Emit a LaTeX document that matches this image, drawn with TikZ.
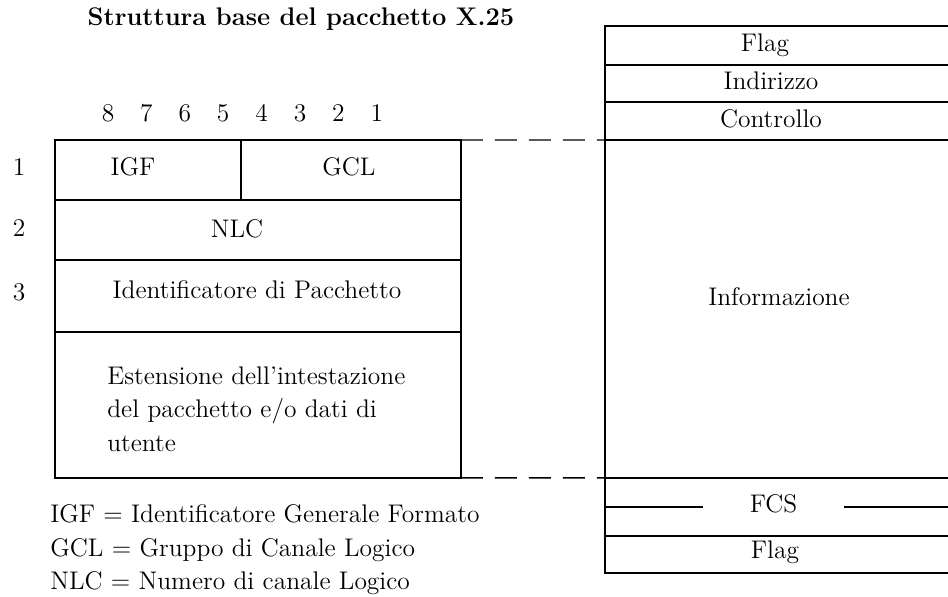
\documentclass[tikz,border=0pt]{standalone}
\begin{document}
\begin{tikzpicture}
[x=0.02cm,y=-0.02cm,
  font=\fontsize{14.5}{19}\selectfont,
  celldecorate/.style={shape=rectangle,draw,line width=0.8pt,inner sep=0pt,outer sep=0pt,anchor=north west},%
  textdecorate/.style={inner sep=0pt,text height=0.683em,text depth=0pt},%
  dashdecorate/.style={-,line width=0.8pt,dash pattern=on 0.44cm off 0.24cm}]
\useasboundingbox (0,0) rectangle (948,597);
% title and bit numbers
\node (title) at (301,20) [textdecorate,font=\fontsize{14.5}{19}\selectfont\bfseries] {Struttura base del pacchetto X.25};
\foreach \b in {1,...,8}
  \node (bit\b) at ({108+(8-\b)*38.4},116) [textdecorate] {\b};
% packet cells
\node (igf) at (55,140) [celldecorate,minimum width=3.72cm,minimum height=1.2cm] {};
\node (gcl) at (igf.north east) [celldecorate,minimum width=4.4cm,minimum height=1.2cm] {};
\node (nlc) at (igf.south west) [celldecorate,minimum width=8.12cm,minimum height=1.2cm] {};
\node (idp) at (nlc.south west) [celldecorate,minimum width=8.12cm,minimum height=1.44cm] {};
\node (ext) at (idp.south west) [celldecorate,minimum width=8.12cm,minimum height=2.92cm] {};
\foreach \r/\y in {1/170,2/231,3/295}
  \node (row\r) at (19,\y) [textdecorate] {\r};
\node (igftext) at (133,170) [textdecorate] {IGF};
\node (gcltext) at (349,170) [textdecorate] {GCL};
\node (nlctext) at (237,232) [textdecorate] {NLC};
\node (idptext) at (257,293) [textdecorate] {Identificatore di Pacchetto};
\node (exttext) at (107,409) [anchor=west,align=left,inner sep=0pt] {Estensione dell'intestazione\\del pacchetto e/o dati di\\utente};
% frame cells
\node (flagA) at (605,26) [celldecorate,minimum width=7.1cm,minimum height=0.78cm] {};
\node (indir) at (flagA.south west) [celldecorate,minimum width=7.1cm,minimum height=0.74cm] {};
\node (contr) at (indir.south west) [celldecorate,minimum width=7.1cm,minimum height=0.76cm] {};
\node (info) at (contr.south west) [celldecorate,minimum width=7.1cm,minimum height=6.76cm] {};
\node (fcs) at (info.south west) [celldecorate,minimum width=7.1cm,minimum height=1.16cm] {};
\node (flagB) at (fcs.south west) [celldecorate,minimum width=7.1cm,minimum height=0.74cm] {};
\node (flagAtext) at (765,46) [textdecorate] {Flag};
\node (indirtext) at (771,84) [textdecorate] {Indirizzo};
\node (contrtext) at (771,122) [textdecorate] {Controllo};
\node (infotext) at (779,300) [textdecorate] {Informazione};
\node (fcstext) at (773.5,507) [textdecorate,minimum width=2.82cm] {FCS};
\node (flagBtext) at (775,553) [textdecorate] {Flag};
\draw[line width=0.8pt] (fcs.west |- fcstext.west) -- (fcstext.west)
  (fcstext.east) -- (fcs.east |- fcstext.east);
% dashed links
\path
(gcl.north east) edge[dashdecorate] (info.north west)
(ext.south east) edge[dashdecorate] (info.south west);
% legend
\node (legend) at (50,550) [anchor=west,align=left,inner sep=0pt] {IGF = Identificatore Generale Formato\\GCL = Gruppo di Canale Logico\\NLC = Numero di canale Logico};
\end{tikzpicture}
\end{document}
